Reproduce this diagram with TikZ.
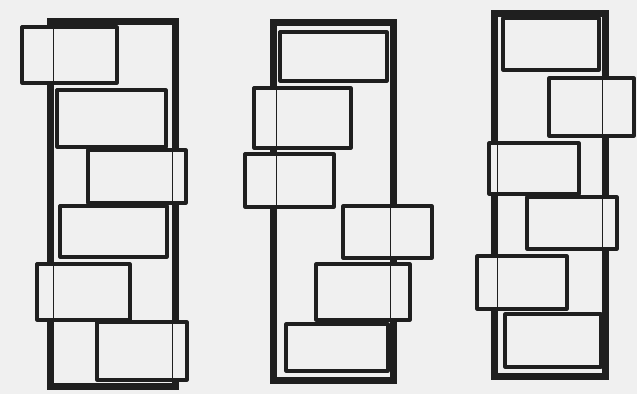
\documentclass[tikz,border=0pt]{standalone}
\usepackage{tikz}

\definecolor{paper}{gray}{0.94}
\definecolor{pen}{gray}{0.12}

% panel lists: left/top/right/bottom, in pixels from the top left
\def\colA{22/27/117/83, 57/90/166/147, 88/150/186/203, 60/206/167/257, 37/264/130/320, 97/322/187/380}
\def\colB{280/32/387/81, 254/88/351/148, 245/154/334/207, 343/206/432/258, 316/264/410/320, 286/324/388/371}
\def\colC{503/18/599/70, 549/78/634/136, 489/143/579/194, 527/197/617/249, 477/256/567/309, 505/314/601/367}

\begin{document}
\begin{tikzpicture}[x=1pt, y=-1pt,
  frame/.style={draw=pen, line width=6pt, line join=miter},
  trace/.style={draw=pen, line width=0.8pt},
  panel/.style={draw=pen, line width=3.2pt, line join=round},
  blank/.style={fill=paper}
]
  % paper
  \fill[paper] (0,0) rectangle (637,394);

  % column 1
  \draw[frame] (49.5,21) rectangle (176,387);
  \foreach \a/\b/\c/\d in \colA
    \fill[blank] (\a,\b) rectangle (\c,\d);
  \draw[trace] (53,24.5) rectangle (172.5,383.5);
  \foreach \a/\b/\c/\d in \colA
    \draw[panel] (\a,\b) rectangle (\c,\d);

  % column 2
  \draw[frame] (273,22) rectangle (394,381);
  \foreach \a/\b/\c/\d in \colB
    \fill[blank] (\a,\b) rectangle (\c,\d);
  \draw[trace] (276.5,25.5) rectangle (390.5,377.5);
  \foreach \a/\b/\c/\d in \colB
    \draw[panel] (\a,\b) rectangle (\c,\d);

  % column 3
  \draw[frame] (494,13) rectangle (606,377);
  \foreach \a/\b/\c/\d in \colC
    \fill[blank] (\a,\b) rectangle (\c,\d);
  \draw[trace] (497.5,16.5) rectangle (602.5,373.5);
  \foreach \a/\b/\c/\d in \colC
    \draw[panel] (\a,\b) rectangle (\c,\d);
\end{tikzpicture}
\end{document}
